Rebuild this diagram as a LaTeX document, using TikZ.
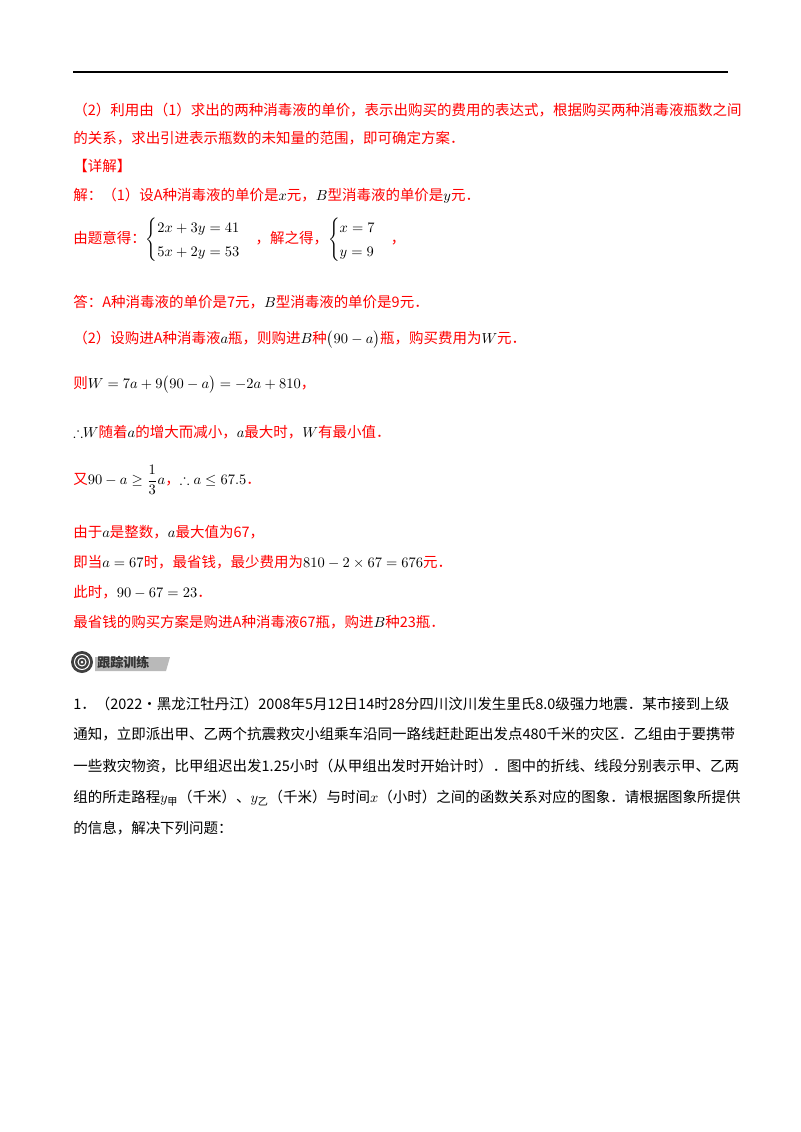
\documentclass[tikz,border=0pt]{standalone}
\usepackage{amsmath, amssymb}
\usepackage{fontspec}
\setmainfont{Noto Sans CJK SC}
\usepackage{tikz}
\tikzset{line/.style = {anchor = west, inner sep = 0, font = \normalsize},
         ans/.style = {line, text = red},
         txt/.style = {line, text = black}}
\newcommand{\bk}[1]{\textcolor{black}{#1}}

\begin{document}
\begin{tikzpicture}[x = 0.69pt, y = -0.69pt]
    \useasboundingbox (0, 0) rectangle (800, 1132);
    \draw [line width = 0.85] (73, 72) -- (728, 72);

    \node [ans] (l1) at (73, 110) {（2）利用由（1）求出的两种消毒液的单价，表示出购买的费用的表达式，根据购买两种消毒液瓶数之间};
    \node [ans] (l2) at (73, 138) {的关系，求出引进表示瓶数的未知量的范围，即可确定方案．};
    \node [ans] (l3) at (73, 166) {【详解】};
    \node [ans] (l4) at (73, 196) {解：（1）设A种消毒液的单价是\bk{$x$}元，\bk{$B$}型消毒液的单价是\bk{$y$}元．};
    \node [ans] (l5) at (73, 240) {由题意得：\bk{$\begin{cases}2x+3y=41\\[2pt]5x+2y=53\end{cases}$}，解之得，\bk{$\begin{cases}x=7\\[2pt]y=9\end{cases}$}，};
    \node [ans] (l6) at (73, 302) {答：A种消毒液的单价是7元，\bk{$B$}型消毒液的单价是9元．};
    \node [ans] (l7) at (73, 340) {（2）设购进A种消毒液\bk{$a$}瓶，则购进\bk{$B$}种\bk{$\bigl(90-a\bigr)$}瓶，购买费用为\bk{$W$}元．};
    \node [ans] (l8) at (73, 385) {则\bk{$W=7a+9\bigl(90-a\bigr)=-2a+810$}，};
    \node [ans] (l9) at (73, 432) {\bk{$\therefore$}\bk{$W$}随着\bk{$a$}的增大而减小，\bk{$a$}最大时，\bk{$W$}有最小值．};
    \node [ans] (l10) at (73, 480) {又\bk{$90-a\geq\dfrac{1}{3}a$}，\bk{$\therefore a\leq 67.5$}．};
    \node [ans] (l11) at (73, 532) {由于\bk{$a$}是整数，\bk{$a$}最大值为67，};
    \node [ans] (l12) at (73, 562) {即当\bk{$a=67$}时，最省钱，最少费用为\bk{$810-2\times67=676$}元．};
    \node [ans] (l13) at (73, 592) {此时，\bk{$90-67=23$}．};
    \node [ans] (l14) at (73, 622) {最省钱的购买方案是购进A种消毒液67瓶，购进\bk{$B$}种23瓶．};

    % badge
    \fill [gray!55] (95, 657) -- (170, 657) -- (166, 671) -- (95, 671) -- cycle;
    \fill [black!75] (82, 662) circle (11);
    \draw [white, line width = 0.7] (82, 662) circle (7.5) (82, 662) circle (4);
    \fill [white] (82, 662) circle (1.5);
    \node [line, font = \small\bfseries, text = black!80] (badge) at (97, 662) {跟踪训练};

    \node [txt] (q1) at (73, 704) {1．（2022·黑龙江牡丹江）2008年5月12日14时28分四川汶川发生里氏8.0级强力地震．某市接到上级};
    \node [txt] (q2) at (73, 734) {通知，立即派出甲、乙两个抗震救灾小组乘车沿同一路线赶赴距出发点480千米的灾区．乙组由于要携带};
    \node [txt] (q3) at (73, 766) {一些救灾物资，比甲组迟出发1.25小时（从甲组出发时开始计时）．图中的折线、线段分别表示甲、乙两};
    \node [txt] (q4) at (73, 798) {组的所走路程$y_{\text{甲}}$（千米）、$y_{\text{乙}}$（千米）与时间$x$（小时）之间的函数关系对应的图象．请根据图象所提供};
    \node [txt] (q5) at (73, 828) {的信息，解决下列问题：};
\end{tikzpicture}
\end{document}
